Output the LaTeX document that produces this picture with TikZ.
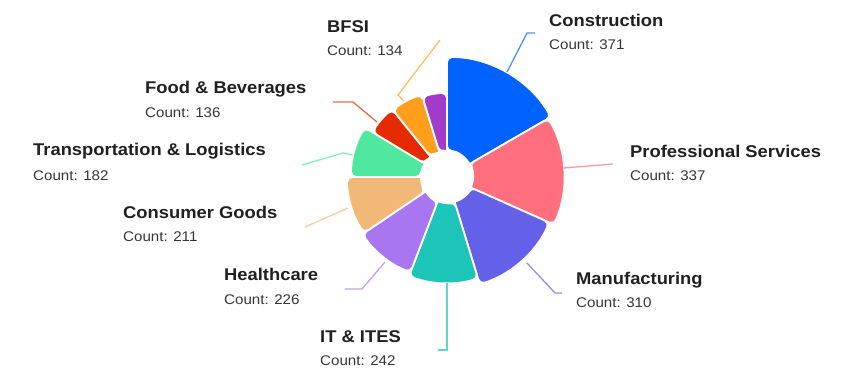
\documentclass[tikz,border=0pt]{standalone}
\usepackage{fontspec}
\setmainfont{Liberation Sans}[FakeStretch=1.08]
\definecolor{cConstr}{HTML}{0062FF}
\definecolor{cProf}{HTML}{FF6F7D}
\definecolor{cManuf}{HTML}{6461E8}
\definecolor{cIT}{HTML}{1DC4B8}
\definecolor{cHealth}{HTML}{A876F0}
\definecolor{cConsum}{HTML}{F2B877}
\definecolor{cTrans}{HTML}{4FE89E}
\definecolor{cFood}{HTML}{E52A00}
\definecolor{cBFSI}{HTML}{FF9F1C}
\definecolor{cOther}{HTML}{A43AC8}
\definecolor{txt}{HTML}{202020}
% one petal of the rose: colour, from angle, to angle, outer radius
\newcommand{\petal}[4]{%
  \filldraw[fill=#1, draw=white, line width=1.8pt, line join=round,
      rounded corners=5pt]
    (#2:26) -- (#2:#4) arc[start angle=#2, end angle=#3, radius=#4]
    -- (#3:26) [sharp corners] arc[start angle=#3, end angle=#2, radius=26]
    -- cycle;}
\tikzset{
  title/.style={anchor=base west, inner sep=0pt, text=txt,
    font=\fontsize{17}{20}\selectfont\bfseries},
  count/.style={anchor=base west, inner sep=0pt, text=txt!90,
    font=\fontsize{14}{16}\selectfont},
  lead/.style={line width=1.3pt, opacity=0.7}
}
\begin{document}
\begin{tikzpicture} [x = 1pt, y = 1pt]
\useasboundingbox (-447, -194) rectangle (408, 177);
\petal{cConstr}{30}{90}{120} %Construction
\petal{cProf}{-24}{30}{117} %Professional Services
\petal{cManuf}{-73}{-24}{112} %Manufacturing
\petal{cIT}{-111}{-73}{106} %IT & ITES
\petal{cHealth}{-146}{-111}{102} %Healthcare
\petal{cConsum}{-180}{-146}{100} %Consumer Goods
\petal{cTrans}{-211}{-180}{96} %Transportation
\petal{cFood}{-231}{-211}{87} %Food
\petal{cBFSI}{-253}{-231}{86} %BFSI
\petal{cOther}{-270}{-253}{84} %smallest, no label
\fill[white] (0, 0) circle (25); %hole
\node [title] (cons) at (102, 150) {Construction};
\node [count] (consN) at (102, 127) {Count: 371};
\node [title] (prof) at (183, 19) {Professional Services};
\node [count] (profN) at (183, -4) {Count: 337};
\node [title] (manu) at (129, -108) {Manufacturing};
\node [count] (manuN) at (129, -131) {Count: 310};
\node [title] (it) at (-127, -166) {IT \& ITES};
\node [count] (itN) at (-127, -189) {Count: 242};
\node [title] (heal) at (-223, -104) {Healthcare};
\node [count] (healN) at (-223, -128) {Count: 226};
\node [title] (cons2) at (-324, -42) {Consumer Goods};
\node [count] (cons2N) at (-324, -65) {Count: 211};
\node [title] (tran) at (-414, 21) {Transportation \& Logistics};
\node [count] (tranN) at (-414, -4) {Count: 182};
\node [title] (food) at (-302, 83) {Food \& Beverages};
\node [count] (foodN) at (-302, 59) {Count: 136};
\node [title] (bfsi) at (-120, 144.5) {BFSI};
\node [count] (bfsiN) at (-120, 121) {Count: 134};
\coordinate (consA) at (60, 105);
\coordinate (consB) at (80, 144);
\coordinate (consC) at (88, 144);
\coordinate (profA) at (117, 9);
\coordinate (profB) at (166, 13);
\coordinate (manuA) at (80, -86);
\coordinate (manuB) at (108, -116);
\coordinate (manuC) at (115, -116);
\coordinate (itA) at (0, -106);
\coordinate (itB) at (0, -173);
\coordinate (itC) at (-9, -173);
\coordinate (healA) at (-62, -85);
\coordinate (healB) at (-85, -112);
\coordinate (healC) at (-102, -112);
\coordinate (cons2A) at (-99, -31);
\coordinate (cons2B) at (-142, -50);
\coordinate (tranA) at (-95, 22);
\coordinate (tranB) at (-104, 24);
\coordinate (tranC) at (-145, 12);
\coordinate (foodA) at (-70, 55);
\coordinate (foodB) at (-94, 75);
\coordinate (foodC) at (-114, 75);
\coordinate (bfsiA) at (-43, 76);
\coordinate (bfsiB) at (-49, 82);
\coordinate (bfsiC) at (-7, 137);
\draw[lead, cConstr] (consA) -- (consB) -- (consC); %Construction
\draw[lead, cProf] (profA) -- (profB); %Professional
\draw[lead, cManuf] (manuA) -- (manuB) -- (manuC); %Manufacturing
\draw[lead, cIT] (itA) -- (itB) -- (itC); %IT
\draw[lead, cHealth] (healA) -- (healB) -- (healC); %Healthcare
\draw[lead, cConsum] (cons2A) -- (cons2B); %Consumer
\draw[lead, cTrans] (tranA) -- (tranB) -- (tranC); %Transportation
\draw[lead, cFood] (foodA) -- (foodB) -- (foodC); %Food
\draw[lead, cBFSI] (bfsiA) -- (bfsiB) -- (bfsiC); %BFSI
\end{tikzpicture}
\end{document}
